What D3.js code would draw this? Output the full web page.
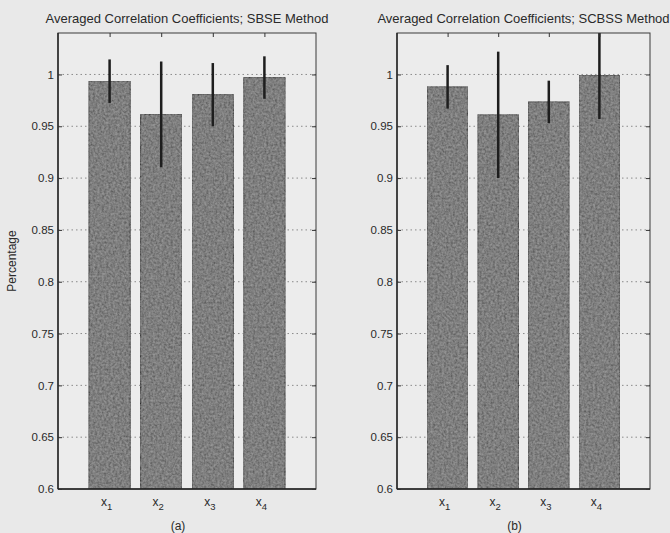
<!DOCTYPE html>
<html><head><meta charset="utf-8">
<script src="https://cdn.jsdelivr.net/npm/d3@7"></script>
<style>
html,body{margin:0;padding:0;background:#e9e9e9;}
text{font-family:"Liberation Sans",Arial,sans-serif;fill:#2a2a2a;}
</style></head>
<body>
<svg id="chart" width="670" height="533"></svg>
<script>
const categories = ["1","2","3","4"];
const sbseMean = [0.9935, 0.9615, 0.9805, 0.997];
const sbseErr  = [0.021, 0.051, 0.0305, 0.0205];
const scbssMean = [0.988, 0.961, 0.9735, 0.999];
const scbssErr  = [0.021, 0.061, 0.0205, 0.042];
const yTicks = [0.6,0.65,0.7,0.75,0.8,0.85,0.9,0.95,1];
const titles = ["Averaged Correlation Coefficients; SBSE Method","Averaged Correlation Coefficients; SCBSS Method"];
const panelLabels = ["(a)","(b)"];
const yLabel = "Percentage";

const svg = d3.select("#chart");
const defs = svg.append("defs");
const f = defs.append("filter").attr("id","noise").attr("x",0).attr("y",0).attr("width","100%").attr("height","100%");
f.append("feTurbulence").attr("type","fractalNoise").attr("baseFrequency",0.45).attr("numOctaves",2).attr("seed",3).attr("result","n");
f.append("feColorMatrix").attr("in","n").attr("type","matrix")
 .attr("values","1.4 0 0 0 -0.2  1.4 0 0 0 -0.2  1.4 0 0 0 -0.2  0 0 0 0 0.2").attr("result","g");
f.append("feComposite").attr("in","g").attr("in2","SourceGraphic").attr("operator","in").attr("result","c");
const mg = f.append("feMerge");
mg.append("feMergeNode").attr("in","SourceGraphic");
mg.append("feMergeNode").attr("in","c");

const panels = [
  {x0:58, x1:316, mean:sbseMean, err:sbseErr, showYLabel:true},
  {x0:397, x1:650, mean:scbssMean, err:scbssErr, showYLabel:false}
];
const plotTop = 33, plotBottom = 489;

panels.forEach((p,pi)=>{
  const g = svg.append("g");
  const x = d3.scaleLinear().domain([0,5]).range([p.x0,p.x1]);
  const y = d3.scaleLinear().domain([0.6,1.04]).range([plotBottom,plotTop]);
  const bw = (x(1)-x(0))*0.8;
  const cid = "clip"+pi;
  defs.append("clipPath").attr("id",cid).append("rect")
    .attr("x",p.x0).attr("y",plotTop).attr("width",p.x1-p.x0).attr("height",plotBottom-plotTop);

  g.append("rect").attr("x",p.x0).attr("y",plotTop).attr("width",p.x1-p.x0).attr("height",plotBottom-plotTop).attr("fill","#ececec");
  g.selectAll(".grid").data(yTicks.slice(1)).join("line")
    .attr("x1",p.x0).attr("x2",p.x1).attr("y1",d=>y(d)).attr("y2",d=>y(d))
    .attr("stroke","#8a8a8a").attr("stroke-width",1).attr("stroke-dasharray","1.5,3");
  g.selectAll(".bar").data(p.mean).join("rect")
    .attr("x",(d,i)=>x(i+1)-bw/2).attr("width",bw)
    .attr("y",d=>y(d)).attr("height",d=>y(0.6)-y(d))
    .attr("fill","#686868").attr("stroke","#333").attr("stroke-width",1)
    .attr("filter","url(#noise)");
  g.append("g").attr("clip-path","url(#"+cid+")").selectAll("line").data(p.mean).join("line")
    .attr("x1",(d,i)=>x(i+1)).attr("x2",(d,i)=>x(i+1))
    .attr("y1",(d,i)=>y(d+p.err[i])).attr("y2",(d,i)=>y(d-p.err[i]))
    .attr("stroke","#1e1e1e").attr("stroke-width",2.5);
  g.append("rect").attr("x",p.x0).attr("y",plotTop).attr("width",p.x1-p.x0).attr("height",plotBottom-plotTop)
    .attr("fill","none").attr("stroke","#3a3a3a").attr("stroke-width",1);
  g.append("line").attr("x1",p.x0).attr("x2",p.x0).attr("y1",plotTop).attr("y2",plotBottom).attr("stroke","#222").attr("stroke-width",1.4);
  g.append("line").attr("x1",p.x0).attr("x2",p.x1).attr("y1",plotBottom).attr("y2",plotBottom).attr("stroke","#222").attr("stroke-width",1.4);

  const ya = d3.axisLeft(y).tickValues(yTicks).tickFormat(d3.format("")).tickSize(-4).tickPadding(4);
  const yg = g.append("g").attr("transform",`translate(${p.x0},0)`).call(ya);
  yg.select(".domain").remove();
  yg.selectAll("line").attr("stroke","#333");
  yg.selectAll("text").attr("font-size",11.5).attr("fill","#2a2a2a");
  const yr = d3.axisRight(y).tickValues(yTicks).tickFormat("").tickSize(-4);
  const yrg = g.append("g").attr("transform",`translate(${p.x1},0)`).call(yr);
  yrg.select(".domain").remove();
  yrg.selectAll("line").attr("stroke","#333");
  const xa = d3.axisBottom(x).tickValues([1,2,3,4]).tickFormat("").tickSize(0);
  const xg = g.append("g").attr("transform",`translate(0,${plotBottom})`).call(xa);
  xg.select(".domain").remove();
  const lab = g.selectAll(".xl").data(categories).join("text")
    .attr("x",(d,i)=>x(i+1)-3).attr("y",plotBottom+17).attr("font-size",12).attr("text-anchor","middle");
  lab.append("tspan").text("x");
  lab.append("tspan").attr("dy",4).attr("font-size",9.5).text(d=>d);
  const xt = d3.axisTop(x).tickValues([1,2,3,4]).tickFormat("").tickSize(-4);
  const xtg = g.append("g").attr("transform",`translate(0,${plotTop})`).call(xt);
  xtg.select(".domain").remove();
  xtg.selectAll("line").attr("stroke","#333");

  g.append("text").attr("x",(p.x0+p.x1)/2).attr("y",23).attr("text-anchor","middle").attr("font-size",13).text(titles[pi]);
  g.append("text").attr("x",(p.x0+p.x1)/2-9).attr("y",530).attr("text-anchor","middle").attr("font-size",12).text(panelLabels[pi]);
  if(p.showYLabel){
    g.append("text").attr("transform",`translate(16,${(plotTop+plotBottom)/2}) rotate(-90)`).attr("text-anchor","middle").attr("font-size",12).text(yLabel);
  }
});
</script>
</body></html>
